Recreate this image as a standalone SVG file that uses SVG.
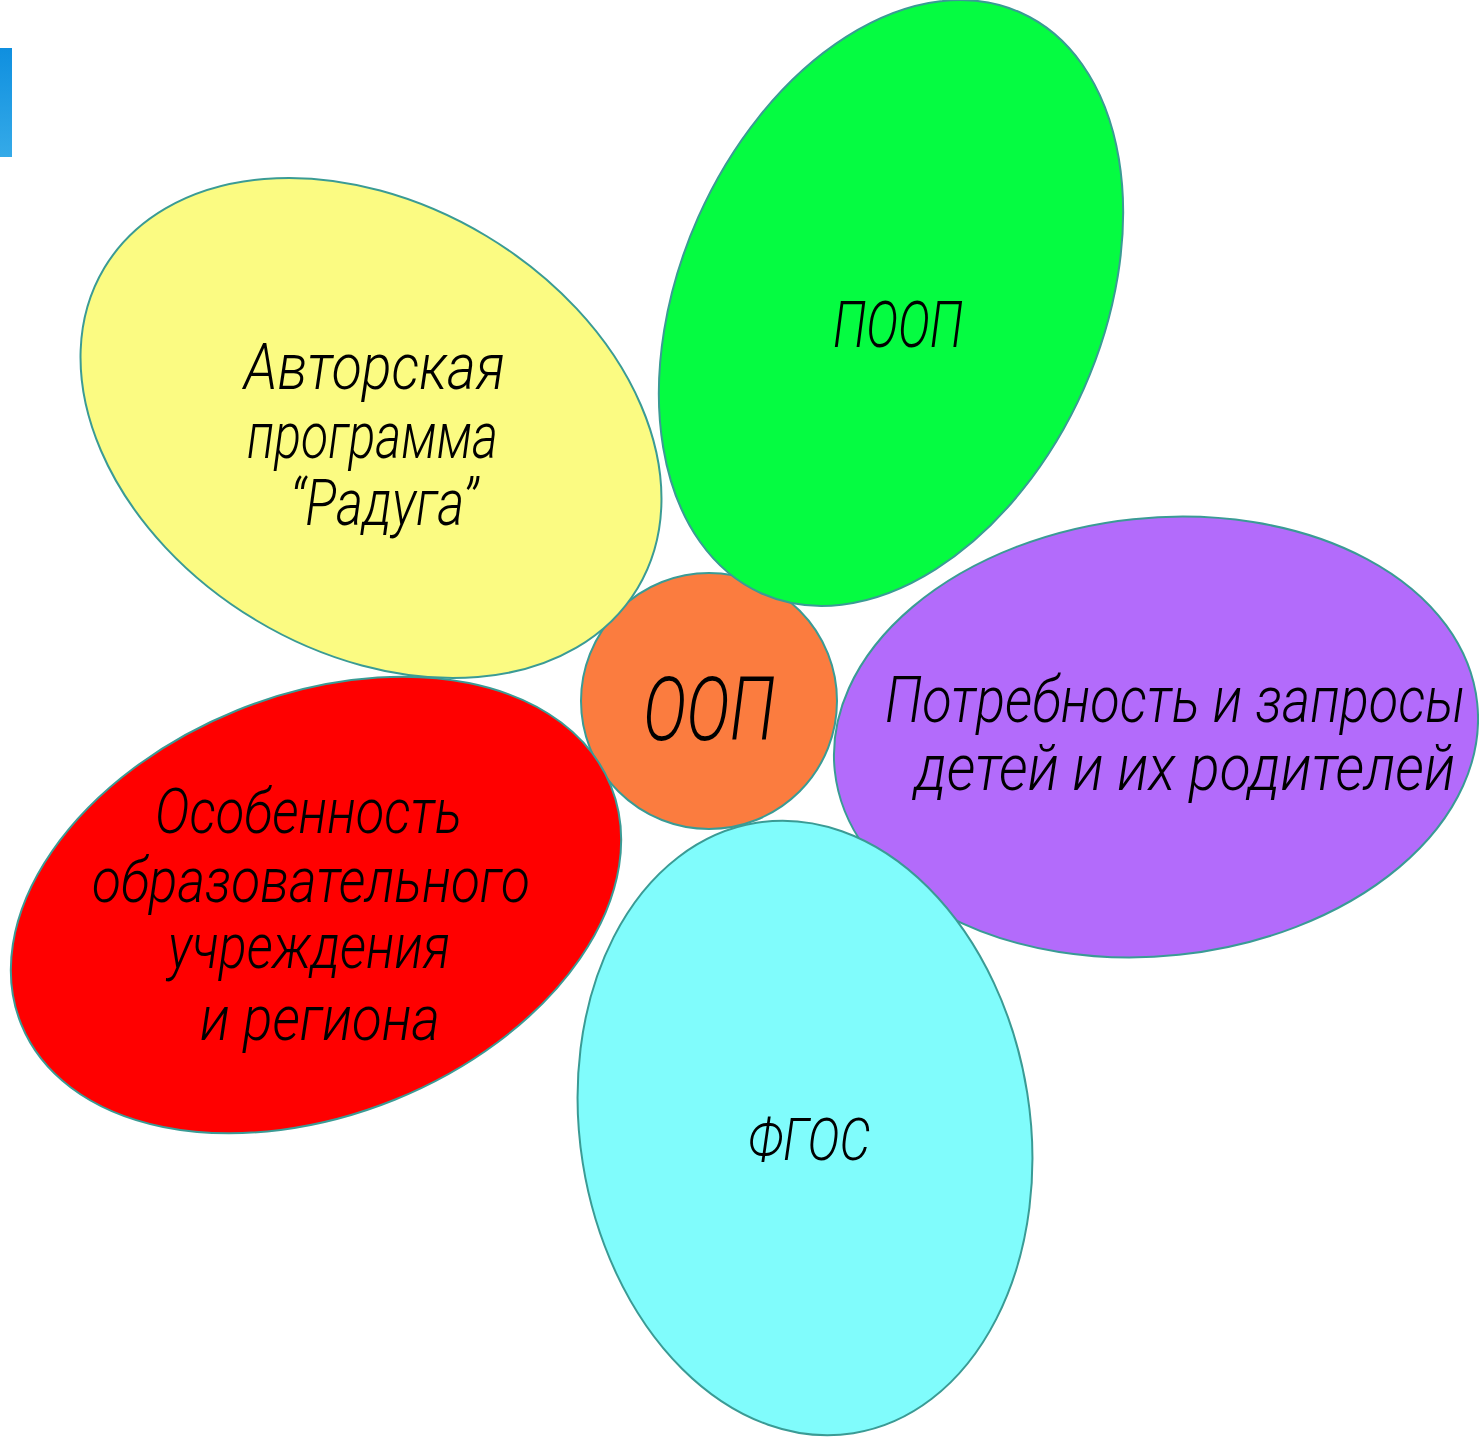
<svg xmlns="http://www.w3.org/2000/svg" width="1479" height="1440" viewBox="0 0 1479 1440">
  <defs>
    <linearGradient id="barGrad" x1="0" y1="0" x2="0" y2="1">
      <stop offset="0" stop-color="#0f8fdf"/>
      <stop offset="1" stop-color="#35aae8"/>
    </linearGradient>
  </defs>
  <style>
    .petal { stroke: #3a9b95; stroke-width: 2; }
    .lbl { font-family: "Roboto", "DejaVu Sans Condensed", "Liberation Sans", sans-serif; font-style: italic; font-weight: 300; fill: #000000; }
  </style>
  <rect x="0" y="0" width="1479" height="1440" fill="#ffffff"/>
  <rect id="accent-bar" x="0" y="48" width="12" height="109" fill="url(#barGrad)"/>

  <g id="connectors"></g>

  <g id="node-center-oop">
    <circle class="petal" cx="709" cy="701" r="128" fill="#fb7c3f"/>
  </g>

  <g id="node-raduga">
    <ellipse class="petal" cx="371" cy="428" rx="311" ry="224" transform="rotate(31 371 428)" fill="#fbfb82"/>
  </g>

  <g id="node-osobennost">
    <ellipse class="petal" cx="316" cy="905" rx="318" ry="210" transform="rotate(-22 316 905)" fill="#ff0000"/>
  </g>

  <g id="node-potrebnost">
    <ellipse class="petal" cx="1156" cy="737" rx="323" ry="219" transform="rotate(-6 1156 737)" fill="#b36bfb"/>
  </g>

  <g id="node-fgos">
    <ellipse class="petal" cx="805" cy="1128" rx="225" ry="309" transform="rotate(-9 805 1128)" fill="#80fcfc"/>
  </g>

  <g id="node-poop">
    <ellipse class="petal" cx="891" cy="303" rx="211" ry="318" transform="rotate(24 891 303)" fill="#05fc41"/>
  </g>

  <g id="labels">
    <text class="lbl" x="643" y="740" font-size="88" textLength="132" lengthAdjust="spacingAndGlyphs">ООП</text>
    <text class="lbl" x="833" y="347" font-size="65" textLength="130" lengthAdjust="spacingAndGlyphs">ПООП</text>
    <text class="lbl" x="244" y="389" font-size="65" textLength="261" lengthAdjust="spacingAndGlyphs">Авторская</text>
    <text class="lbl" x="247" y="458" font-size="65" textLength="251" lengthAdjust="spacingAndGlyphs">программа</text>
    <text class="lbl" x="290" y="525" font-size="65" textLength="188" lengthAdjust="spacingAndGlyphs">“Радуга”</text>
    <text class="lbl" x="885" y="722" font-size="64" textLength="580" lengthAdjust="spacingAndGlyphs">Потребность и запросы</text>
    <text class="lbl" x="915" y="790" font-size="64" textLength="540" lengthAdjust="spacingAndGlyphs">детей и их родителей</text>
    <text class="lbl" x="155" y="833" font-size="63" textLength="307" lengthAdjust="spacingAndGlyphs">Особенность</text>
    <text class="lbl" x="92" y="902" font-size="63" textLength="438" lengthAdjust="spacingAndGlyphs">образовательного</text>
    <text class="lbl" x="168" y="968" font-size="63" textLength="282" lengthAdjust="spacingAndGlyphs">учреждения</text>
    <text class="lbl" x="200" y="1040" font-size="63" textLength="240" lengthAdjust="spacingAndGlyphs">и региона</text>
    <text class="lbl" x="748" y="1160" font-size="60" textLength="122" lengthAdjust="spacingAndGlyphs">ФГОС</text>
  </g>
</svg>
